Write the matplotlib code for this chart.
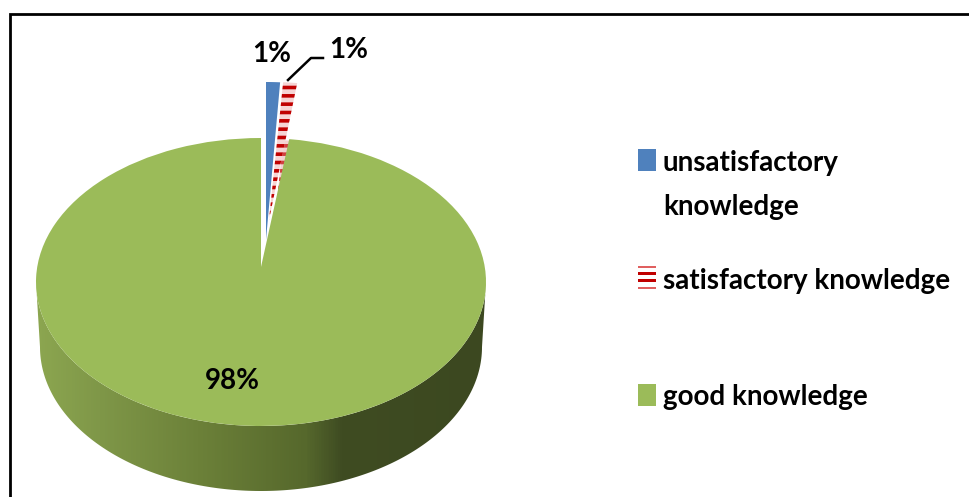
import numpy as np
import matplotlib
matplotlib.use("Agg")
import matplotlib.pyplot as plt
from matplotlib.colors import LinearSegmentedColormap
from matplotlib.patches import PathPatch, Polygon, Rectangle
from matplotlib.path import Path
from matplotlib.transforms import Affine2D

categories = ["unsatisfactory\nknowledge", "satisfactory knowledge", "good knowledge"]
values = [1, 1, 98]
colors = ["#4f81bd", "#c00000", "#9bbb59"]

plt.rcParams["font.family"] = ["Lato", "DejaVu Sans"]
plt.rcParams["hatch.linewidth"] = 2.6

fig = plt.figure(figsize=(9.69, 4.97), dpi=100, facecolor="white")
ax = fig.add_axes([0, 0, 1, 1])

wedges, _ = ax.pie(values, colors=colors, startangle=90, counterclock=False, radius=1,
                   center=(0, 0), hatch=[None, "--", None], wedgeprops={"linewidth": 0})
ax.set_aspect("auto")
ax.set_xlim(0, 969)
ax.set_ylim(497, 0)
ax.axis("off")

# geometry: (cx, cy, rx, ry) per wedge in picture pixels
geom = [(266, 240, 225, 158), (269, 220, 225, 138), (261, 282, 225, 144)]


def tf(g, dy=0):
    return Affine2D().scale(g[2], -g[3]).translate(g[0], g[1] + dy) + ax.transData


# wall of the green slice
t = np.linspace(np.pi, 2 * np.pi, 200)
ux, uy = 261 + 225 * np.cos(t), 282 - 144 * np.sin(t)
lx, ly = 261 + 221 * np.cos(t), 347 - 144 * np.sin(t)
wall = np.column_stack([np.r_[ux, lx[::-1]], np.r_[uy, ly[::-1]]])
cmap = LinearSegmentedColormap.from_list(
    "wall", [(0, "#8ca650"), (0.14, "#7f9748"), (0.36, "#6c8139"), (0.6, "#56682c"),
             (0.68, "#3f4c22"), (1, "#3c4820")])
img = ax.imshow(np.linspace(0, 1, 450)[None, :], extent=(36, 486, 495, 280), cmap=cmap,
                aspect="auto", zorder=1)
clip = Polygon(wall, closed=True, transform=ax.transData, facecolor="none", edgecolor="none")
ax.add_patch(clip)
img.set_clip_path(clip)
ax.set_xlim(0, 969)
ax.set_ylim(497, 0)

# wall of the red slice, behind the green slice
red = wedges[1]
red.set_facecolor("#f6d4d4")
red.set_edgecolor(colors[1])
red.set_transform(tf(geom[1]))
red.set_zorder(3)
red_side = PathPatch(red.get_path(), transform=tf(geom[1], 58), facecolor="#f4d0d0",
                     edgecolor="#d04040", hatch="--", linewidth=0, zorder=2)
ax.add_patch(red_side)

wedges[0].set_transform(tf(geom[0]))
wedges[0].set_zorder(3)

# green slice, with its apex raised as in the reference
green = wedges[2]
p = green.get_path()
verts = p.vertices.copy()
verts[np.hypot(verts[:, 0], verts[:, 1]) < 1e-6] = (0, 15 / 144)
green.set_visible(False)
ax.add_patch(PathPatch(Path(verts, p.codes), transform=tf(geom[2]), facecolor=colors[2],
                       edgecolor="none", zorder=4))

# data labels
lab = dict(fontsize=20, fontweight="bold", color="black", ha="center", va="center", zorder=6)
ax.text(272, 54, f"{values[0]}%", **lab)
ax.text(349, 50, f"{values[1]}%", **lab)
ax.text(232, 381, f"{values[2]}%", **lab)
ax.plot([288, 311, 323], [80, 58, 58], color="black", lw=1.8, zorder=6)

# legend
leg = dict(fontsize=20, fontweight="bold", color="black", ha="left", va="center")
ax.text(663, 163, categories[0].split("\n")[0], **leg)
ax.text(663, 207, categories[0].split("\n")[1], **leg)
ax.text(663, 281, categories[1], **leg)
ax.text(663, 397, categories[2], **leg)
ax.add_patch(Rectangle((638, 149), 18, 22, facecolor=colors[0], edgecolor="none"))
ax.add_patch(Rectangle((638, 384), 18, 22, facecolor=colors[2], edgecolor="none"))
ax.add_patch(Rectangle((638, 266), 18, 25, facecolor="white", edgecolor="none"))
for y, c, h in [(266, "#e06060", 2), (272, colors[1], 3), (279, colors[1], 3), (287, "#e06060", 2)]:
    ax.add_patch(Rectangle((638, y), 18, h, facecolor=c, edgecolor="none"))

# image frame: only the left and top lines are in the reference
ax.plot([10, 10, 969], [497, 14, 14], color="black", lw=2, zorder=7, solid_joinstyle="miter")

fig.savefig("out.png", dpi=100, facecolor="white")
